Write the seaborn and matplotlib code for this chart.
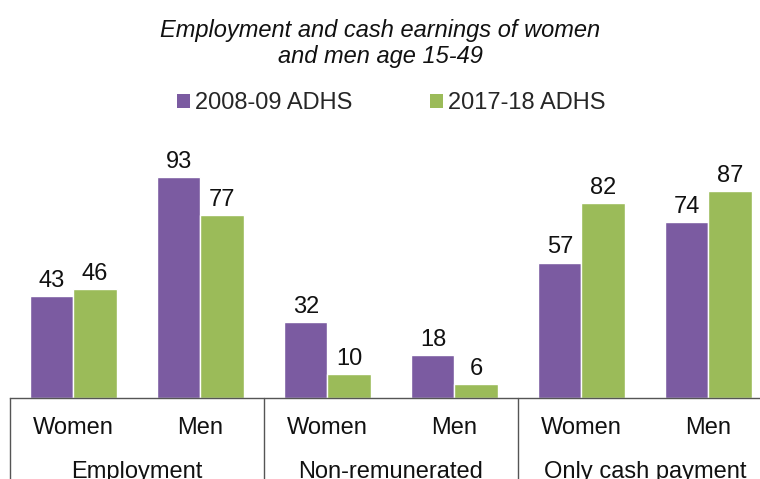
import matplotlib
matplotlib.use("Agg")
import matplotlib.pyplot as plt
import matplotlib.transforms as mtransforms
from matplotlib.patches import Patch
import seaborn as sns
import pandas as pd

# Survey indicators, grouped by category and sex
groups = ["Employment", "Non-remunerated", "Only cash payment"]
sexes = ["Women", "Men"]
surveys = ["2008-09 ADHS", "2017-18 ADHS"]
values_2008 = [43, 93, 32, 18, 57, 74]
values_2017 = [46, 77, 10, 6, 82, 87]
colors = ["#7B5BA1", "#9BBB59"]

keys = [f"{g}|{s}" for g in groups for s in sexes]
df = pd.DataFrame({
    "key": keys * 2,
    "value": values_2008 + values_2017,
    "survey": [surveys[0]] * 6 + [surveys[1]] * 6,
})

sns.set_theme(style="white")
plt.rcParams["font.family"] = ["Liberation Sans", "DejaVu Sans"]

fig = plt.figure(figsize=(7.6, 4.79), dpi=100)
W, H = 760, 479
ax_left, ax_right = 10, 772
ax_bottom, ax_top = 398, 160.4
ax = fig.add_axes([ax_left / W, 1 - ax_bottom / H,
                   (ax_right - ax_left) / W, (ax_bottom - ax_top) / H])

sns.barplot(data=df, x="key", y="value", hue="survey", order=keys,
            hue_order=surveys, palette=colors, saturation=1, width=0.68,
            edgecolor="white", linewidth=1, ax=ax, legend=False)

ax.set_ylim(0, 100)
ax.set_xlim(-0.5, len(keys) - 0.5)
for cont in ax.containers:
    ax.bar_label(cont, fmt="%d", padding=3, fontsize=17, color="#111111")

for side in ["top", "right", "left"]:
    ax.spines[side].set_visible(False)
ax.spines["bottom"].set_color("#555555")
ax.spines["bottom"].set_linewidth(1)
ax.set_xticks([])
ax.set_yticks([])
ax.set_xlabel("")
ax.set_ylabel("")

trans = mtransforms.blended_transform_factory(ax.transData, ax.transAxes)
for i, k in enumerate(keys):
    ax.text(i, -0.126, k.split("|")[1], transform=trans, ha="center",
            va="center", fontsize=17, color="#111111", clip_on=False)
for j, g in enumerate(groups):
    ax.text(2 * j + 0.5, -0.31, g, transform=trans, ha="center",
            va="center", fontsize=17, color="#111111", clip_on=False)
for xsep in [-0.5, 1.5, 3.5]:
    ax.plot([xsep, xsep], [0, -0.6], transform=trans, color="#555555",
            linewidth=1, clip_on=False)

fig.text(0.5, 1 - 30 / H, "Employment and cash earnings of women",
         ha="center", va="center", fontsize=17, style="italic", color="#111111")
fig.text(0.5, 1 - 56 / H, "and men age 15-49",
         ha="center", va="center", fontsize=17, style="italic", color="#111111")

handles = [Patch(facecolor=c, edgecolor="none") for c in colors]
fig.legend(handles, surveys, loc="center", bbox_to_anchor=(391 / W, 1 - 103 / H),
           ncol=2, frameon=False, fontsize=17, handlelength=0.55,
           handleheight=0.55, handletextpad=0.2, columnspacing=3.3,
           borderpad=0, borderaxespad=0)

fig.savefig("out.png", dpi=100)
